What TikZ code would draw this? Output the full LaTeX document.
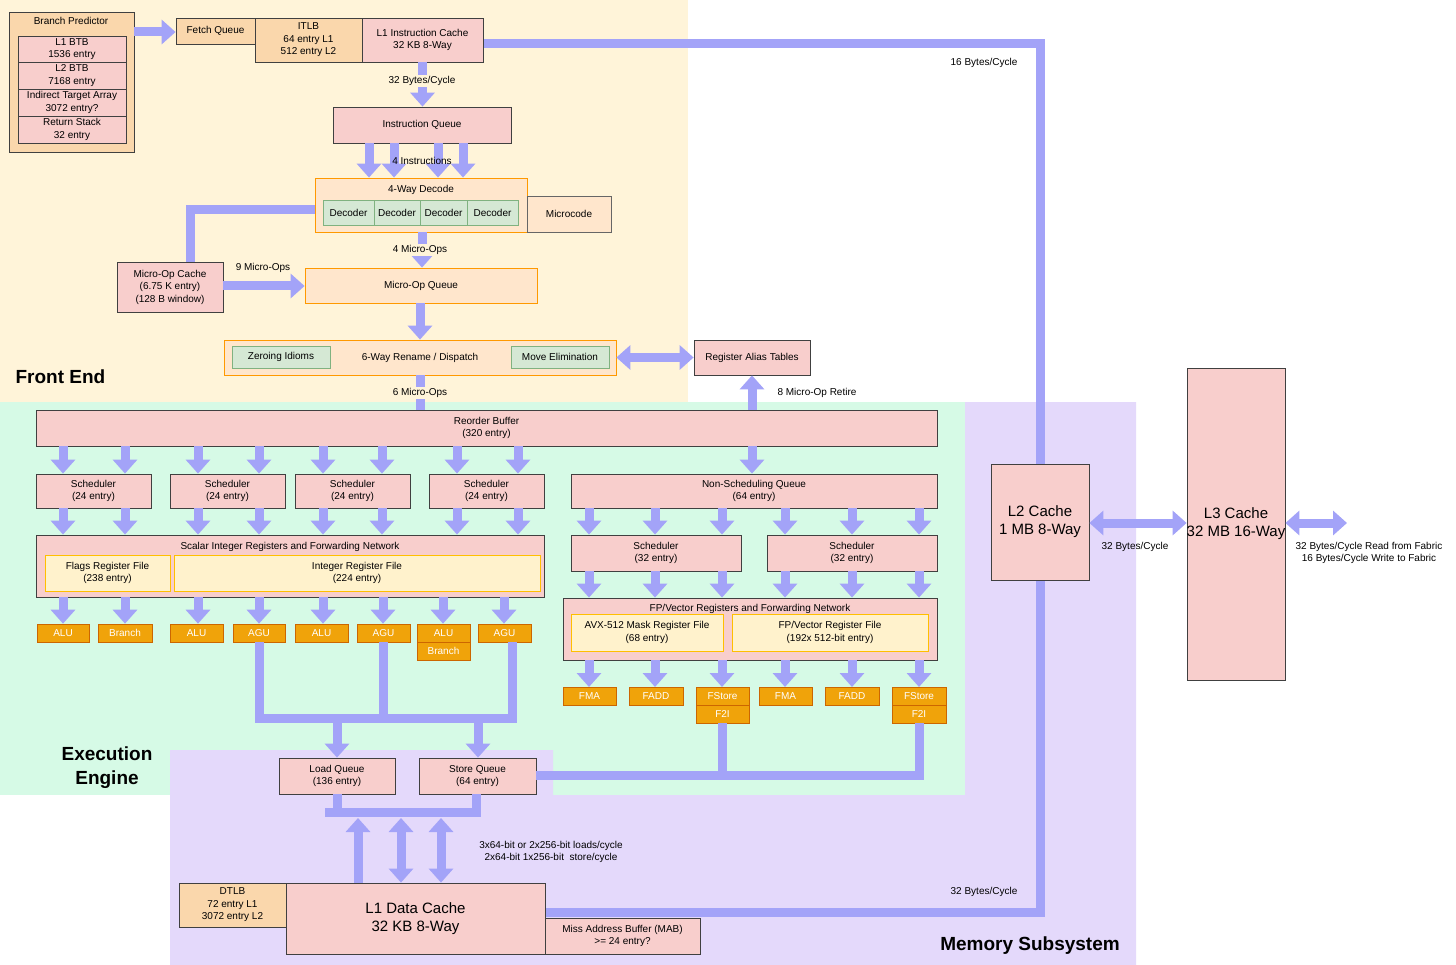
\documentclass[tikz,border=0pt]{standalone}
\usepackage{fontspec}
\setmainfont{Liberation Sans}
\usetikzlibrary{arrows.meta,fit}
\definecolor{feb}{HTML}{FFF4D9}
\definecolor{exb}{HTML}{D6FAE6}
\definecolor{meb}{HTML}{E4D9FB}
\definecolor{pk}{HTML}{F8CECC}
\definecolor{orl}{HTML}{FAD7AC}
\definecolor{pch}{HTML}{FFE6CC}
\definecolor{grn}{HTML}{D5E8D4}
\definecolor{yel}{HTML}{FFF2CC}
\definecolor{unit}{HTML}{F0A30A}
\definecolor{arc}{HTML}{A3A3F8}
\newcommand\bx[7]{\node[#1,fit={(#3,#4)(#5,#6)},inner sep=0pt] (#2) {}; \node[base] (#2t) at (#2.center) {#7};}
\newcommand\bxu[7]{\node[#1,fit={(#3,#4)(#5,#6)},inner sep=0pt] (#2) {}; \node[base,text=white] (#2t) at (#2.center) {#7};}
\tikzset{
 base/.style={align=center,font=\fontsize{10}{12.5}\selectfont,inner sep=0pt},
 pkb/.style={draw=black!75,fill=pk,line width=0.8pt},
 orb/.style={draw=black!75,fill=orl,line width=0.8pt},
 pcb/.style={draw=orange!80!yellow,fill=pch,line width=0.8pt},
 pcc/.style={draw=black!60,fill=pch,line width=0.8pt},
 grb/.style={draw=green!40!black!50,fill=grn,line width=0.8pt},
 yeb/.style={draw=orange!50!yellow,fill=yel,line width=0.8pt},
 unb/.style={draw=orange!80!black,fill=unit,line width=0.6pt},
 lbl/.style={base},
 bigt/.style={font=\fontsize{15}{18}\selectfont},
 big/.style={font=\fontsize{19}{24}\selectfont\bfseries,align=center},
 fa/.style={draw=arc,line width=9pt,-{Triangle[width=24pt,length=14pt]}},
 fd/.style={draw=arc,line width=9pt,{Triangle[width=24pt,length=14pt]}-{Triangle[width=24pt,length=14pt]}},
 fl/.style={draw=arc,line width=9pt},
}
\begin{document}
\begin{tikzpicture}[x=1pt,y=-1pt]
\useasboundingbox (0,0) rectangle (1456,965);
\fill[white] (0,0) rectangle (1456,965);
% regions
\fill[feb] (0,0) rectangle (688,402);
\fill[exb] (0,402) rectangle (965,795);
\fill[meb] (965,402) -- (1136,402) -- (1136,965) -- (170,965) -- (170,750) -- (553,750) -- (553,795) -- (965,795) -- cycle;
\node[big,anchor=west] (fe) at (12,377) {Front End};
\node[big] (ee) at (107,768) {Execution\\Engine};
\node[big] (ms) at (1030,946) {Memory Subsystem};

% long paths (behind)
\draw[fl] (483,44) -- (1040,44) -- (1040,464);
\draw[fl] (1040,580) -- (1040,912) -- (545,912);
\node[lbl] (l16) at (984,63) {16 Bytes/Cycle};
\node[lbl] (l32b) at (984,892) {32 Bytes/Cycle};

% Branch predictor
\bx{orb}{bp}{9}{12}{134}{152}{}
\node[lbl] (bpt) at (71,21) {Branch Predictor};
\bx{pkb}{btb1}{18}{36}{126}{62}{L1 BTB\\1536 entry}
\bx{pkb}{btb2}{18}{62}{126}{89}{L2 BTB\\7168 entry}
\bx{pkb}{ita}{18}{89}{126}{116}{Indirect Target Array\\3072 entry?}
\bx{pkb}{rs}{18}{116}{126}{143}{Return Stack\\32 entry}
\bx{orb}{fq}{176}{18}{255}{44}{Fetch Queue}
\bx{orb}{itlb}{255}{18}{362}{62}{ITLB\\64 entry L1\\512 entry L2}
\bx{pkb}{ic}{362}{18}{483}{62}{L1 Instruction Cache\\32 KB 8-Way}
\draw[fa] (bp.east |- 0,32) -- (fq.west |- 0,32);
\bx{pkb}{iq}{333}{107}{511}{143}{Instruction Queue}
\draw[fa] (ic.south) -- (iq.north -| ic.south);
\node[lbl,fill=feb,inner sep=1pt] (l32) at (422,81) {32 Bytes/Cycle};
\bx{pcb}{dec}{315}{178}{527}{232}{}
\node[lbl] (dect) at (421,190) {4-Way Decode};
\bx{grb}{d1}{323}{200}{374}{225}{Decoder}
\bx{grb}{d2}{374}{200}{420}{225}{Decoder}
\bx{grb}{d3}{420}{200}{467}{225}{Decoder}
\bx{grb}{d4}{467}{200}{518}{225}{Decoder}
\bx{pcc}{mc}{527}{196}{611}{232}{Microcode}
\foreach \x in {369,394,438,463} \draw[fa] (iq.south -| \x,0) -- (dec.north -| \x,0);
\node[lbl] (l4i) at (422,161) {4 Instructions};
\bx{pkb}{uc}{117}{262}{223}{312}{Micro-Op Cache\\(6.75 K entry)\\(128 B window)}
\draw[fl] (dec.west |- 0,210) -- (190,210) -- (uc.north -| 190,0);
\bx{pcb}{uq}{305}{268}{537}{303}{Micro-Op Queue}
\draw[fa] (uc.east |- 0,286) -- (uq.west |- 0,286);
\node[lbl] (l9) at (263,268) {9 Micro-Ops};
\draw[fa] (dec.south -| 422,0) -- (uq.north -| 422,0);
\node[lbl,fill=feb,inner sep=1pt] (l4u) at (420,250) {4 Micro-Ops};
\bx{pcb}{rn}{224}{340}{616}{375}{6-Way Rename / Dispatch}
\bx{grb}{zi}{232}{346}{330}{368}{Zeroing Idioms}
\bx{grb}{me}{511}{346}{609}{368}{Move Elimination}
\draw[fa] (uq.south -| 420,0) -- (rn.north -| 420,0);
\bx{pkb}{rat}{694}{340}{810}{375}{Register Alias Tables}
\draw[fd] (rn.east) -- (rat.west);

% execution
\bx{pkb}{rob}{36}{410}{937}{446}{Reorder Buffer\\(320 entry)}
\draw[fl] (rn.south -| 420,0) -- (rob.north -| 420,0);
\node[lbl,fill=feb,inner sep=1pt] (l6) at (420,393) {6 Micro-Ops};
\draw[fa] (rob.north -| 752,0) -- (rat.south -| 752,0);
\node[lbl] (lret) at (817,393) {8 Micro-Op Retire};
\bx{pkb}{s1}{36}{474}{151}{508}{Scheduler\\(24 entry)}
\bx{pkb}{s2}{170}{474}{285}{508}{Scheduler\\(24 entry)}
\bx{pkb}{s3}{295}{474}{410}{508}{Scheduler\\(24 entry)}
\bx{pkb}{s4}{429}{474}{544}{508}{Scheduler\\(24 entry)}
\bx{pkb}{nsq}{571}{474}{937}{508}{Non-Scheduling Queue\\(64 entry)}
\bx{pkb}{sir}{36}{535}{544}{597}{}
\node[lbl] (sirt) at (290,547) {Scalar Integer Registers and Forwarding Network};
\bx{yeb}{frf}{45}{555}{170}{591}{Flags Register File\\(238 entry)}
\bx{yeb}{irf}{174}{555}{540}{591}{Integer Register File\\(224 entry)}
\foreach \x in {63,125,198,259,323,382,457,518} {
 \draw[fa] (rob.south -| \x,0) -- (s1.north -| \x,0);
 \draw[fa] (s1.south -| \x,0) -- (sir.north -| \x,0);}
\draw[fa] (rob.south -| 752,0) -- (nsq.north -| 752,0);
\bx{pkb}{fs1}{571}{535}{741}{571}{Scheduler\\(32 entry)}
\bx{pkb}{fs2}{767}{535}{937}{571}{Scheduler\\(32 entry)}
\bx{pkb}{fpn}{563}{598}{937}{660}{}
\node[lbl] (fpnt) at (750,609) {FP/Vector Registers and Forwarding Network};
\bx{yeb}{mrf}{571}{614}{723}{651}{AVX-512 Mask Register File\\(68 entry)}
\bx{yeb}{vrf}{732}{614}{928}{651}{FP/Vector Register File\\(192x 512-bit entry)}
\foreach \x in {589,655,722,785,852,919} {
 \draw[fa] (nsq.south -| \x,0) -- (fs1.north -| \x,0);
 \draw[fa] (fs1.south -| \x,0) -- (fpn.north -| \x,0);
 \draw[fa] (fpn.south -| \x,0) -- (\x,687);}
% int units
\bxu{unb}{u1}{37}{624}{89}{642}{ALU}
\bxu{unb}{u2}{98}{624}{152}{642}{Branch}
\bxu{unb}{u3}{170}{624}{223}{642}{ALU}
\bxu{unb}{u4}{233}{624}{285}{642}{AGU}
\bxu{unb}{u5}{295}{624}{348}{642}{ALU}
\bxu{unb}{u6}{357}{624}{410}{642}{AGU}
\bxu{unb}{u7}{417}{624}{470}{642}{ALU}
\bxu{unb}{u7b}{417}{642}{470}{660}{Branch}
\bxu{unb}{u8}{478}{624}{531}{642}{AGU}
\foreach \x/\u in {63/u1,125/u2,198/u3,259/u4,323/u5,383/u6,443/u7,504/u8}
 \draw[fa] (sir.south -| \x,0) -- (\u.north -| \x,0);
% fp units
\bxu{unb}{f1}{563}{687}{616}{705}{FMA}
\bxu{unb}{f2}{629}{687}{683}{705}{FADD}
\bxu{unb}{f3}{696}{687}{749}{705}{FStore}
\bxu{unb}{f3b}{696}{705}{749}{723}{F2I}
\bxu{unb}{f4}{759}{687}{812}{705}{FMA}
\bxu{unb}{f5}{825}{687}{879}{705}{FADD}
\bxu{unb}{f6}{892}{687}{946}{705}{FStore}
\bxu{unb}{f6b}{892}{705}{946}{723}{F2I}
% load / store
\bx{pkb}{lq}{279}{758}{395}{794}{Load Queue\\(136 entry)}
\bx{pkb}{sq}{419}{758}{536}{794}{Store Queue\\(64 entry)}
\draw[fl] (u4.south -| 259,0) -- (259,718) -- (512,718) -- (u8.south -| 512,0);
\draw[fl] (u6.south -| 383,0) -- (383,718);
\draw[fa] (337,718) -- (lq.north -| 337,0);
\draw[fa] (478,718) -- (sq.north -| 478,0);
\draw[fl] (f3b.south -| 722,0) -- (722,775);
\draw[fl] (f6b.south -| 919,0) -- (919,775) -- (sq.east |- 0,775);
% L1D
\bx{orb}{dtlb}{179}{883}{286}{927}{DTLB\\72 entry L1\\3072 entry L2}
\bx{pkb}{l1d}{286}{883}{545}{954}{}
\node[bigt,align=center] (l1dt) at (l1d.center) {L1 Data Cache\\32 KB 8-Way};
\bx{pkb}{mab}{545}{918}{700}{954}{Miss Address Buffer (MAB)\\>= 24 entry?}
\draw[fl] (lq.south -| 337,0) -- (337,812);
\draw[fl] (sq.south -| 476,0) -- (476,812);
\draw[fl] (325,812) -- (481,812);
\draw[fa] (l1d.north -| 358,0) -- (358,818);
\draw[fd] (l1d.north -| 401,0) -- (401,818);
\draw[fd] (l1d.north -| 441,0) -- (441,818);
\node[lbl] (lls) at (551,852) {3x64-bit or 2x256-bit loads/cycle\\2x64-bit 1x256-bit\ \ store/cycle};
% L2/L3
\bx{pkb}{l2}{991}{464}{1089}{580}{}
\node[bigt,align=center] (l2t) at (l2.center) {L2 Cache\\1 MB 8-Way};
\bx{pkb}{l3}{1187}{368}{1285}{680}{}
\node[bigt,align=center] (l3t) at (l3.center) {L3 Cache\\32 MB 16-Way};
\draw[fd] (l2.east |- 0,523) -- (l3.west |- 0,523);
\node[lbl] (l23) at (1135,547) {32 Bytes/Cycle};
\coordinate (fab) at (1347,523);
\draw[fd] (l3.east |- 0,523) -- (fab);
\node[lbl] (lfab) at (1369,553) {32 Bytes/Cycle Read from Fabric\\16 Bytes/Cycle Write to Fabric};
\end{tikzpicture}
\end{document}
